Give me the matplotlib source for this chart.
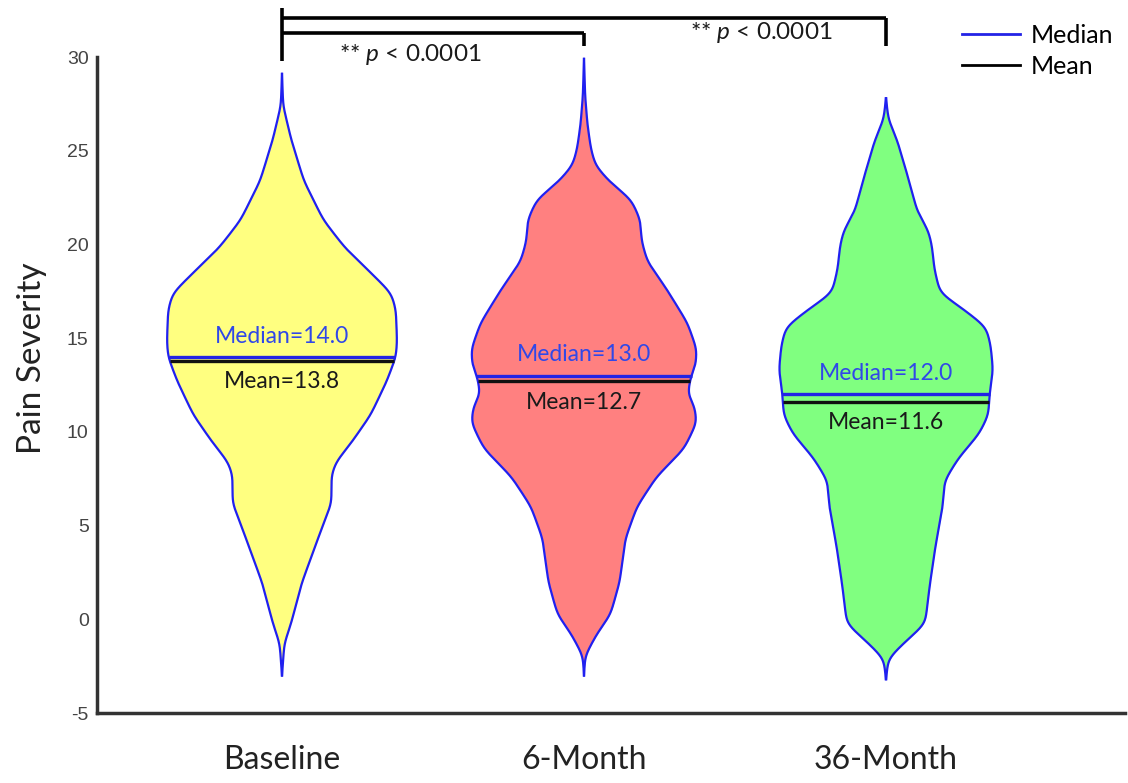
import numpy as np
import matplotlib
matplotlib.use("Agg")
import matplotlib.pyplot as plt
from matplotlib.lines import Line2D

plt.rcParams["font.family"] = ["Lato", "DejaVu Sans"]
plt.rcParams["mathtext.fontset"] = "custom"
plt.rcParams["mathtext.it"] = "Lato:italic"
plt.rcParams["mathtext.rm"] = "Lato"

# ---------------- data ----------------
groups = ["Baseline", "6-Month", "36-Month"]
medians = [14.0, 13.0, 12.0]
means = [13.8, 12.7, 11.6]
fill_colors = ["#ffff80", "#ff8080", "#80ff80"]

# violin profiles: pain-severity levels and relative density (half-width)
base_y = [29.1, 27.4, 25.6, 23.4, 21.3, 19.8, 18.5, 17.4, 16.5, 14.8, 14.0,
          12.7, 10.9, 9.4, 8.4, 7.7, 6.2, 4.1, 1.9, -0.2, -1.3, -3.0]
base_w = [0.0, 0.01, 0.08, 0.19, 0.36, 0.55, 0.77, 0.95, 0.99, 1.0, 0.99,
          0.91, 0.77, 0.60, 0.47, 0.43, 0.43, 0.30, 0.17, 0.08, 0.02, 0.0]

m6_y = [29.9, 27.9, 26.4, 25.1, 24.2, 23.3, 22.4, 21.3, 20.2, 19.1, 17.6, 15.8,
        14.4, 13.5, 13.0, 12.0, 11.4, 10.5, 9.1, 7.6, 6.0, 4.3, 2.0, 0.25,
        -0.8, -1.95, -3.0]
m6_w = [0.0, 0.01, 0.03, 0.06, 0.10, 0.23, 0.41, 0.49, 0.50, 0.55, 0.72, 0.90,
        0.98, 0.97, 0.93, 0.90, 0.96, 0.98, 0.87, 0.63, 0.46, 0.36, 0.31, 0.23,
        0.11, 0.01, 0.0]

m36_y = [27.8, 26.7, 25.5, 23.4, 21.8, 20.7, 19.9, 18.7, 17.4, 16.6, 15.6, 14.6,
         13.3, 12.0, 10.9, 9.9, 8.6, 7.4, 5.9, 3.9, 1.8, -0.25, -1.3, -2.1, -3.2]
m36_w = [0.0, 0.02, 0.10, 0.20, 0.27, 0.37, 0.40, 0.42, 0.47, 0.66, 0.87, 0.91,
         0.93, 0.90, 0.89, 0.81, 0.63, 0.51, 0.49, 0.43, 0.38, 0.34, 0.15, 0.02, 0.0]

profiles_y = [base_y, m6_y, m36_y]
profiles_w = [base_w, m6_w, m36_w]

yticks = [-5, 0, 5, 10, 15, 20, 25, 30]
p_label = "** $p$ < 0.0001"

# ---------------- style ----------------
EDGE = "#2020f0"
MED_COL = "#2323e6"
MED_TXT = "#3048e8"
MAXW = 0.381


def smooth_profile(yv, wv, sigma=0.3):
    yv = np.asarray(yv, float)
    wv = np.asarray(wv, float)
    order = np.argsort(yv)
    ya, wa = yv[order], wv[order]
    yy = np.linspace(ya[0], ya[-1], 1200)
    ww = np.interp(yy, ya, wa)
    step = yy[1] - yy[0]
    s = sigma / step
    k = np.arange(-int(4 * s), int(4 * s) + 1)
    ker = np.exp(-0.5 * (k / s) ** 2)
    ker /= ker.sum()
    pad = len(k) // 2
    wp = np.pad(ww, pad, mode="edge")
    ws = np.convolve(wp, ker, mode="valid")
    return yy, ws


fig = plt.figure(figsize=(11.28, 7.83), dpi=100)
ax = fig.add_axes([97 / 1128, 70 / 783, 1028 / 1128, 656 / 783])

for i, g in enumerate(groups):
    x0 = i + 1
    yy, ww = smooth_profile(profiles_y[i], profiles_w[i])
    hw = ww * MAXW
    ax.fill_betweenx(yy, x0 - hw, x0 + hw, color=fill_colors[i], lw=0, zorder=2)
    ax.plot(x0 - hw, yy, color=EDGE, lw=1.6, zorder=3)
    ax.plot(x0 + hw, yy, color=EDGE, lw=1.6, zorder=3)

    hmean = np.interp(means[i], yy, hw)
    ax.plot([x0 - hmean, x0 + hmean], [means[i]] * 2, color="#111111", lw=2.4,
            solid_capstyle="butt", zorder=4)
    hmed = np.interp(medians[i], yy, hw)
    ax.plot([x0 - hmed, x0 + hmed], [medians[i]] * 2, color=MED_COL, lw=2.4,
            solid_capstyle="butt", zorder=5)

    ax.annotate(f"Median={medians[i]:.1f}", xy=(x0, medians[i]), xytext=(0, 15),
                textcoords="offset points", ha="center", va="center",
                color=MED_TXT, fontsize=16.5, zorder=6)
    ax.annotate(f"Mean={means[i]:.1f}", xy=(x0, means[i]), xytext=(0, -15),
                textcoords="offset points", ha="center", va="center",
                color="#1a1a1a", fontsize=16.5, zorder=6)

# significance brackets
bk = dict(color="black", lw=2.6, clip_on=False, solid_capstyle="butt", zorder=6)
ax.plot([1, 1], [29.8, 32.6], **bk)
ax.plot([1, 3], [32.1, 32.1], **bk)
ax.plot([3, 3], [32.1, 30.6], **bk)
ax.plot([1, 2], [31.3, 31.3], **bk)
ax.plot([2, 2], [31.3, 30.6], **bk)
ax.text(1.424, 30.15, p_label, ha="center", va="center", fontsize=17.5,
        color="#1a1a1a", clip_on=False)
ax.text(2.586, 31.3, p_label, ha="center", va="center", fontsize=17.5,
        color="#1a1a1a", clip_on=False)

# axes
ax.set_xlim(1 - 185 / 302, 3 + 239 / 302)
ax.set_ylim(-5, 30)
ax.set_yticks(yticks)
ax.set_yticklabels([str(t) for t in yticks], fontfamily="Liberation Sans")
ax.set_xticks([1, 2, 3])
ax.set_xticklabels(groups)
ax.tick_params(axis="y", length=0, pad=6, labelsize=14, labelcolor="#444444")
ax.tick_params(axis="x", length=0, pad=23, labelsize=23, labelcolor="#222222")
for sp in ["top", "right"]:
    ax.spines[sp].set_visible(False)
for sp in ["left", "bottom"]:
    ax.spines[sp].set_linewidth(2.5)
    ax.spines[sp].set_color("#333333")
ax.set_ylabel("Pain Severity", fontsize=24, color="#222222")
ax.yaxis.set_label_coords(-0.049, 0.541)

handles = [Line2D([], [], color=MED_COL, lw=2), Line2D([], [], color="black", lw=2)]
ax.legend(handles, ["Median", "Mean"], loc="upper left",
          bbox_to_anchor=(962 / 1128, 1 - 24 / 783), bbox_transform=fig.transFigure,
          frameon=False, fontsize=18, handlelength=2.3, handletextpad=0.45,
          labelspacing=0.3, borderpad=0, borderaxespad=0)

fig.savefig("out.png", dpi=100)
